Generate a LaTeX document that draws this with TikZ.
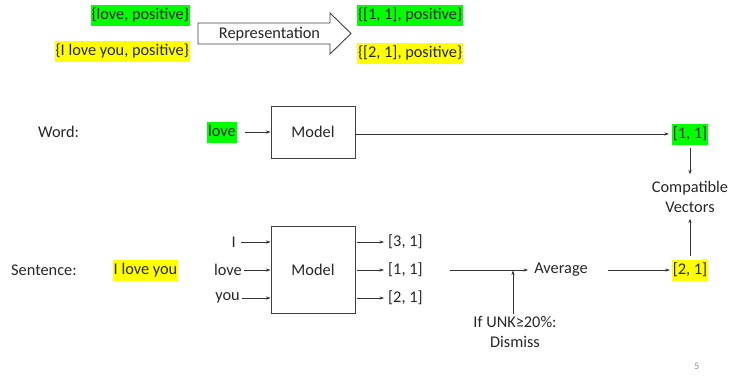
\documentclass[tikz,border=0pt]{standalone}
\usepackage{fontspec}
\setmainfont{Carlito}
\usetikzlibrary{arrows.meta}
\definecolor{hlgreen}{HTML}{00FF00}
\definecolor{hlyellow}{HTML}{FFFF00}
\definecolor{linegray}{HTML}{404040}
\begin{document}
\begin{tikzpicture}[x=1bp,y=-1bp,
  every node/.style={font=\fontsize{16.4}{19.5}\selectfont, text=black!85, inner sep=2bp},
  hl/.style={inner xsep=0.8bp, inner ysep=2.5bp, text height=12bp, text depth=4bp},
  hlg/.style={hl, fill=hlgreen},
  hly/.style={hl, fill=hlyellow},
  modelbox/.style={draw=linegray, line width=0.9bp, minimum width=84bp},
  arr/.style={-{Stealth[length=4.5bp,width=3.2bp]}, line width=0.6bp, draw=black!80},
  bigarrow/.style={draw=linegray, line width=0.9bp, fill=white}
]
\useasboundingbox (0,0) rectangle (730,376);

% top row
\node[hlg, anchor=east] (tlove) at (190,15.5) {\{love, positive\}};
\node[hly, anchor=east] (tily) at (190,51) {\{I love you, positive\}};
\draw[bigarrow] (198,23) -- (330,23) -- (330,13) -- (351,33.5) -- (330,54) -- (330,44) -- (198,44) -- cycle;
\node (rep) at (269.5,34) {Representation};
\node[hlg, anchor=west] (tv11) at (357,15.5) {\{[1, 1], positive\}};
\node[hly, anchor=west] (tv21) at (357,53) {\{[2, 1], positive\}};

% word row
\node[anchor=west] (word) at (36,132) {Word:};
\node[hlg] (wlove) at (222,132) {love};
\node[modelbox, minimum height=52bp] (m1) at (313,132) {Model};
\node[hlg] (w11) at (690,134) {[1, 1]};
\draw[arr] ([xshift=8bp]wlove.east) -- (m1.west);
\draw[arr] (m1.east |- w11.west) -- ([xshift=-3bp]w11.west);

% compatible vectors
\node[align=center] (cv) at (690,197) {Compatible\\Vectors};
\draw[arr] ([yshift=-3bp]w11.south) -- ([yshift=5bp]cv.north);

% sentence row
\node[anchor=west] (sent) at (9,270) {Sentence:};
\node[hly] (sily) at (145.5,270) {I love you};
\node[modelbox, minimum height=87bp] (m2) at (313,269.5) {Model};
\node[anchor=east] (iI) at (238,242) {I};
\node[anchor=east] (ilove) at (244,270) {love};
\node[anchor=east] (iyou) at (242,298) {you};
\draw[arr] ([xshift=3bp]iI.east) -- (iI.east -| m2.west);
\draw[arr] (ilove.east) -- (ilove.east -| m2.west);
\draw[arr] (iyou.east) -- (iyou.east -| m2.west);
\node[anchor=west] (o31) at (386,242) {[3, 1]};
\node[anchor=west] (o11) at (386,270) {[1, 1]};
\node[anchor=west] (o21) at (386,298) {[2, 1]};
\draw[arr] ([xshift=1.5bp]m2.east |- o31.west) -- ([xshift=-2bp]o31.west);
\draw[arr] ([xshift=1.5bp]m2.east |- o11.west) -- ([xshift=-2bp]o11.west);
\draw[arr] ([xshift=1.5bp]m2.east |- o21.west) -- ([xshift=-2bp]o21.west);

\node (avg) at (561,270) {Average};
\draw[arr] ([xshift=25bp]o11.east) -- ([xshift=-4bp]avg.west);
\coordinate (junc) at (513,270.5);
\node[align=center] (unk) at (515,332) {If UNK≥20\%:\\Dismiss};
\draw[arr] (junc |- unk.north) -- (junc);

\node[hly] (s21) at (690,270) {[2, 1]};
\draw[arr] ([xshift=18bp]avg.east) -- ([xshift=-2bp]s21.west);
\draw[arr] ([yshift=3bp]s21.north) -- ([yshift=-4bp]cv.south);

% page number
\node[font=\fontsize{10}{12}\selectfont, text=black!45] (pg) at (697,366) {5};
\end{tikzpicture}
\end{document}
